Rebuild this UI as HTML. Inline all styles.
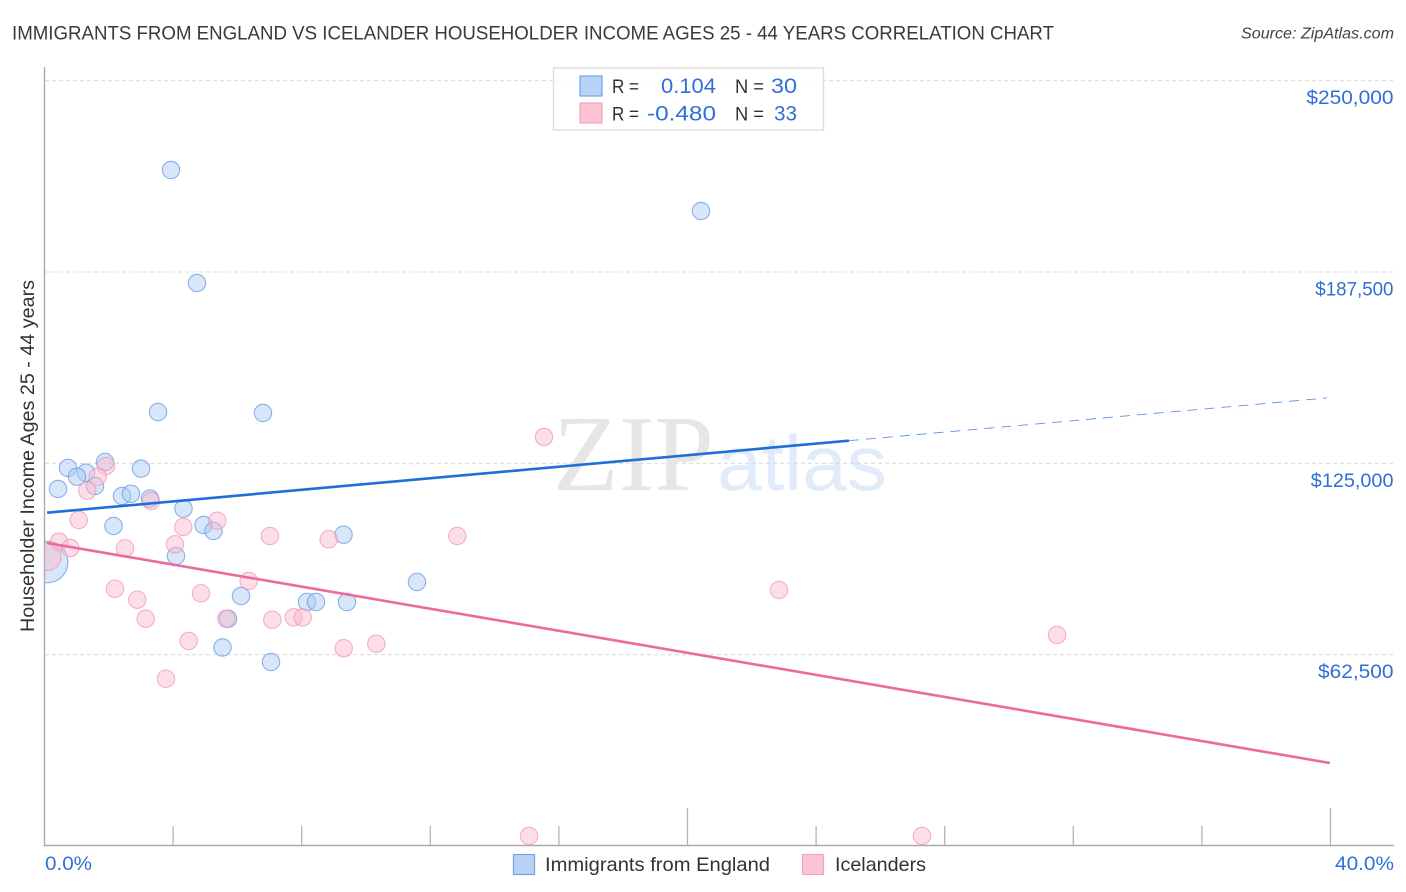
<!DOCTYPE html>
<html>
<head>
<meta charset="utf-8">
<title>Immigrants from England vs Icelander Householder Income Ages 25 - 44 Years Correlation Chart</title>
<style>
html,body{margin:0;padding:0;background:#fff;}
svg{display:block;font-family:"Liberation Sans",sans-serif;}
</style>
</head>
<body>
<svg id="chart" xmlns="http://www.w3.org/2000/svg" width="1406" height="892" viewBox="0 0 1406 892">
  <defs>
    <clipPath id="plot-clip"><rect x="45" y="60" width="1350" height="785"/></clipPath>
  </defs>
  <rect x="0" y="0" width="1406" height="892" fill="#ffffff"/>
  <text x="12" y="39.5" font-size="19.5" fill="#3a3a3a" textLength="1042" lengthAdjust="spacingAndGlyphs">IMMIGRANTS FROM ENGLAND VS ICELANDER HOUSEHOLDER INCOME AGES 25 - 44 YEARS CORRELATION CHART</text>
  <text x="1241" y="38.5" font-size="15.5" font-style="italic" fill="#444444" textLength="153" lengthAdjust="spacingAndGlyphs">Source: ZipAtlas.com</text>
  <g>
    <text x="553" y="490" font-size="108" style="font-family:'Liberation Serif',serif" fill="#e6e6e6" textLength="161" lengthAdjust="spacingAndGlyphs">ZIP</text>
    <text x="717" y="490" font-size="78" style="font-family:'Liberation Sans',sans-serif" fill="#e1ebfa" textLength="170" lengthAdjust="spacingAndGlyphs">atlas</text>
  </g>
  <g id="grid"></g>
  <g id="axes"></g>
  <g id="points" clip-path="url(#plot-clip)"></g>
  <g id="trends"></g>
  <text transform="translate(34 632) rotate(-90)" font-size="19.5" fill="#333333" textLength="352" lengthAdjust="spacingAndGlyphs">Householder Income Ages 25 - 44 years</text>

  <g>
    <rect x="553.5" y="68" width="270" height="62" fill="#ffffff" fill-opacity="0.85" stroke="#dddddd" stroke-width="1.4"/>
    <rect x="580" y="76" width="22" height="20" fill="#b9d3f6" stroke="#6fa3e4" stroke-width="1.2"/>
    <rect x="580" y="103" width="22" height="20" fill="#fcc3d6" stroke="#f4a3bf" stroke-width="1.2"/>
    <text x="612" y="93" font-size="19" fill="#333333" textLength="27" lengthAdjust="spacingAndGlyphs">R =</text>
    <text x="661" y="93" font-size="21" fill="#2f6fd6" textLength="55" lengthAdjust="spacingAndGlyphs">0.104</text>
    <text x="735" y="93" font-size="19" fill="#333333" textLength="29" lengthAdjust="spacingAndGlyphs">N =</text>
    <text x="771" y="93" font-size="21" fill="#2f6fd6" textLength="26" lengthAdjust="spacingAndGlyphs">30</text>
    <text x="612" y="120.5" font-size="19" fill="#333333" textLength="27" lengthAdjust="spacingAndGlyphs">R =</text>
    <text x="647" y="120.5" font-size="21" fill="#2f6fd6" textLength="69" lengthAdjust="spacingAndGlyphs">-0.480</text>
    <text x="735" y="120.5" font-size="19" fill="#333333" textLength="29" lengthAdjust="spacingAndGlyphs">N =</text>
    <text x="774" y="120.5" font-size="21" fill="#2f6fd6" textLength="23" lengthAdjust="spacingAndGlyphs">33</text>
  </g>

  <g>
    <rect x="513.5" y="854.5" width="21" height="20" fill="#b9d3f6" stroke="#6fa3e4" stroke-width="1.2"/>
    <text x="545" y="871" font-size="19.5" fill="#333333" textLength="225" lengthAdjust="spacingAndGlyphs">Immigrants from England</text>
    <rect x="802.5" y="854.5" width="21" height="20" fill="#fcc3d6" stroke="#f4a3bf" stroke-width="1.2"/>
    <text x="835" y="871" font-size="19.5" fill="#333333" textLength="91" lengthAdjust="spacingAndGlyphs">Icelanders</text>
  </g>
</svg>
<script>
const yTickValues = [62500, 125000, 187500, 250000];
const yTickLabels = ["$62,500", "$125,000", "$187,500", "$250,000"];
const xTickValues = [0, 4, 8, 12, 16, 20, 24, 28, 32, 36, 40];
const xEndLabels = ["0.0%", "40.0%"];

const englandX = [3.935, 20.42, 4.743, 3.53, 6.796, 1.882, 0.731, 3.002, 1.291, 1.011, 1.571, 0.42, 2.411, 2.69, 3.281, 4.323, 2.146, 4.946, 5.257, 9.3, 4.09, 11.586, 6.112, 8.165, 8.445, 9.409, 5.708, 5.537, 7.045, 0.08];
const englandY = [220830, 207435, 183915, 141775, 141448, 125441, 123481, 123285, 121946, 120640, 117601, 116621, 114335, 115086, 113485, 110218, 104534, 104861, 102901, 101693, 94734, 86241, 81668, 79707, 79707, 79707, 74252, 64844, 60107, 92774];
const englandWeight = [1, 1, 1, 1, 1, 1, 1, 1, 1, 1, 1, 1, 1, 1, 1, 1, 1, 1, 1, 1, 1, 1, 1, 1, 1, 1, 1, 1, 1, 2.4];

const icelandX = [1.913, 1.655, 1.331, 3.313, 1.064, 5.375, 4.317, 7.014, 8.84, 12.84, 0.451, 4.059, 0.802, 2.504, 0.08, 6.351, 2.193, 4.868, 2.886, 3.148, 5.655, 7.086, 7.751, 8.031, 10.32, 9.306, 4.485, 3.779, 15.536, 22.846, 31.493, 15.07, 27.294];
const icelandY = [124135, 120640, 116067, 112701, 106494, 106266, 104208, 101268, 100190, 101268, 99407, 98556, 97348, 97250, 94506, 86568, 84053, 82550, 80459, 74252, 74252, 73926, 74709, 74709, 66086, 64583, 66967, 54652, 133608, 83627, 68927, 3267, 3267];
const icelandWeight = [1, 1, 1, 1, 1, 1, 1, 1, 1, 1, 1, 1, 1, 1, 1.6, 1, 1, 1, 1, 1, 1, 1, 1, 1, 1, 1, 1, 1, 1, 1, 1, 1, 1];

const englandTrendX = [0.08, 25.02];
const englandTrendY = [108879, 132400];
const englandProjectionX = [25.02, 39.89];
const englandProjectionY = [132400, 146348];
const icelandTrendX = [0.08, 39.98];
const icelandTrendY = [98981, 27114];

const NS = "http://www.w3.org/2000/svg";
function xScale(v) { return 44.5 + v * 32.15; }
function yScale(v) { return 846 - v * 191.33 / 62500; }
function make(parent, tag, attrs) {
  const el = document.createElementNS(NS, tag);
  for (const k in attrs) el.setAttribute(k, attrs[k]);
  parent.appendChild(el);
  return el;
}
function labelWidth(s) {
  let w = 0;
  for (const c of s) w += (c === "1" || c === "7") ? 0.37 : c === "," ? 0.27 : 0.6;
  return w * 19.5;
}

const grid = document.getElementById("grid");
const axes = document.getElementById("axes");
const points = document.getElementById("points");
const trends = document.getElementById("trends");

yTickValues.forEach(function (v, i) {
  const line = make(grid, "line", { x1: 45, x2: 1394, y1: yScale(v), y2: yScale(v), stroke: "#dcdcdc", "stroke-width": 1.1, "stroke-dasharray": "4 3" });
  
  
  const label = make(axes, "text", { x: 1393.5 - labelWidth(yTickLabels[i]), y: yScale(v) + 23.5, "font-size": 19.5, fill: "#2f6fd6", textLength: labelWidth(yTickLabels[i]), lengthAdjust: "spacingAndGlyphs" });
  label.textContent = yTickLabels[i];
  
  
});

const yAxisLine = make(axes, "line", { x1: 44.5, x2: 44.5, y1: 67, y2: 846, stroke: "#aaaaaa", "stroke-width": 1.4 });


const xAxisLine = make(axes, "line", { x1: 44, x2: 1394, y1: 845.5, y2: 845.5, stroke: "#aaaaaa", "stroke-width": 1.4 });



xTickValues.forEach(function (v) {
  if (v === 0) return;
  const tall = v % 20 === 0;
  const tick = make(axes, "line", { x1: xScale(v), x2: xScale(v), y1: tall ? 808 : 826, y2: 845, stroke: "#b4b4b4", "stroke-width": 1.3 });
  
  
});

const xLabelStart = make(axes, "text", { x: 45, y: 870, "font-size": 19.5, fill: "#2f6fd6", textLength: 47, lengthAdjust: "spacingAndGlyphs" });
xLabelStart.textContent = xEndLabels[0];


const xLabelEnd = make(axes, "text", { x: 1335, y: 870, "font-size": 19.5, fill: "#2f6fd6", textLength: 59, lengthAdjust: "spacingAndGlyphs" });
xLabelEnd.textContent = xEndLabels[1];



englandX.forEach(function (v, i) {
  const c = make(points, "circle", { cx: xScale(v), cy: yScale(englandY[i]), r: 8.7 * englandWeight[i], fill: "#a9c9f2", "fill-opacity": 0.47, stroke: "#5f97e2", "stroke-width": 1.1, "stroke-opacity": 0.72 });
  
  
});
icelandX.forEach(function (v, i) {
  const c = make(points, "circle", { cx: xScale(v), cy: yScale(icelandY[i]), r: 8.7 * icelandWeight[i], fill: "#fab9cf", "fill-opacity": 0.47, stroke: "#f08fb0", "stroke-width": 1.1, "stroke-opacity": 0.68 });
  
  
});

const englandTrend = make(trends, "line", { x1: xScale(englandTrendX[0]), y1: yScale(englandTrendY[0]), x2: xScale(englandTrendX[1]), y2: yScale(englandTrendY[1]), stroke: "#1f6fd8", "stroke-width": 2.6 });


const englandProjection = make(trends, "line", { x1: xScale(englandProjectionX[0]), y1: yScale(englandProjectionY[0]), x2: xScale(englandProjectionX[1]), y2: yScale(englandProjectionY[1]), stroke: "#3f80dc", "stroke-width": 0.9, "stroke-opacity": 0.85, "stroke-dasharray": "10 7" });


const icelandTrend = make(trends, "line", { x1: xScale(icelandTrendX[0]), y1: yScale(icelandTrendY[0]), x2: xScale(icelandTrendX[1]), y2: yScale(icelandTrendY[1]), stroke: "#ec6a9c", "stroke-width": 2.6 });


</script>
</body>
</html>
